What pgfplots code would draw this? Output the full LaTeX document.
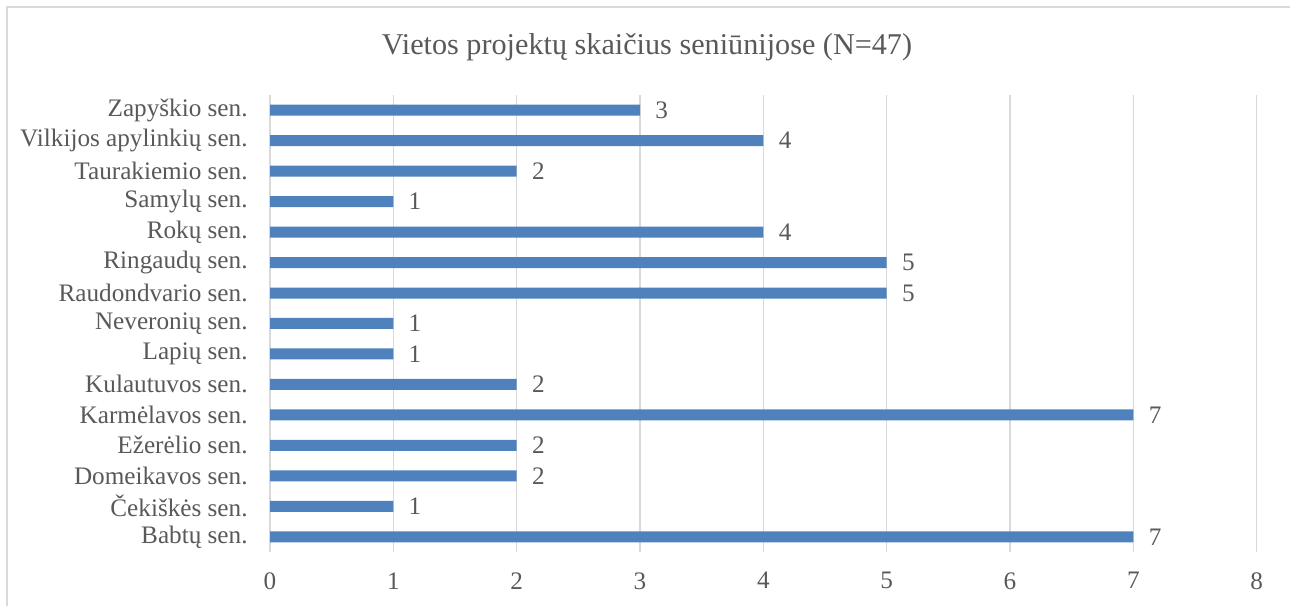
\documentclass[border=0pt]{standalone}
\usepackage{fontspec}
\setmainfont{Liberation Serif}
\usepackage{pgfplots}
\pgfplotsset{compat=1.18}
\definecolor{barblue}{HTML}{4F81BD}
\definecolor{gridgray}{HTML}{D9D9D9}
\definecolor{txt}{HTML}{595959}

\begin{document}
\begin{tikzpicture}[x=1pt,y=1pt]
  \clip (0,0) rectangle (645,302.5);
  % chart frame (cut off at the right and bottom)
  \draw[gridgray, line width=0.75pt] (3.5,-20) rectangle (680,299);
  \node[text=txt, font=\fontsize{15.1}{18}\selectfont] at (323.5,279)
    {Vietos projektų skaičius seniūnijose (N=47)};
  \begin{axis}[
      at={(135pt,26.5pt)}, anchor=south west,
      scale only axis,
      width=493.35pt, height=228.5pt,
      xbar, bar width=5.5pt,
      xmin=0, xmax=8,
      ymin=-0.5, ymax=14.5,
      xtick={0,1,...,8},
      ytick={0,1,...,14},
      yticklabels={Babtų sen., Čekiškės sen., Domeikavos sen., Ežerėlio sen.,
        Karmėlavos sen., Kulautuvos sen., Lapių sen., Neveronių sen.,
        Raudondvario sen., Ringaudų sen., Rokų sen., Samylų sen.,
        Taurakiemio sen., Vilkijos apylinkių sen., Zapyškio sen.},
      xmajorgrids,
      grid style={gridgray, line width=0.75pt},
      axis line style={draw=none},
      major tick length=0pt,
      tick label style={text=txt, font=\fontsize{12.6}{15}\selectfont, inner sep=0pt},
      yticklabel style={xshift=-11pt},
      xticklabel style={yshift=-10pt},
      /pgf/number format/assume math mode=true,
      nodes near coords,
      every node near coord/.append style={anchor=west, inner sep=0pt, xshift=7.5pt,
        text=txt, font=\fontsize{12.6}{15}\selectfont},
    ]
    \addplot[fill=barblue, draw=none] coordinates {
      (7,0) (1,1) (2,2) (2,3) (7,4) (2,5) (1,6) (1,7)
      (5,8) (5,9) (4,10) (1,11) (2,12) (4,13) (3,14)
    };
  \end{axis}
\end{tikzpicture}
\end{document}
